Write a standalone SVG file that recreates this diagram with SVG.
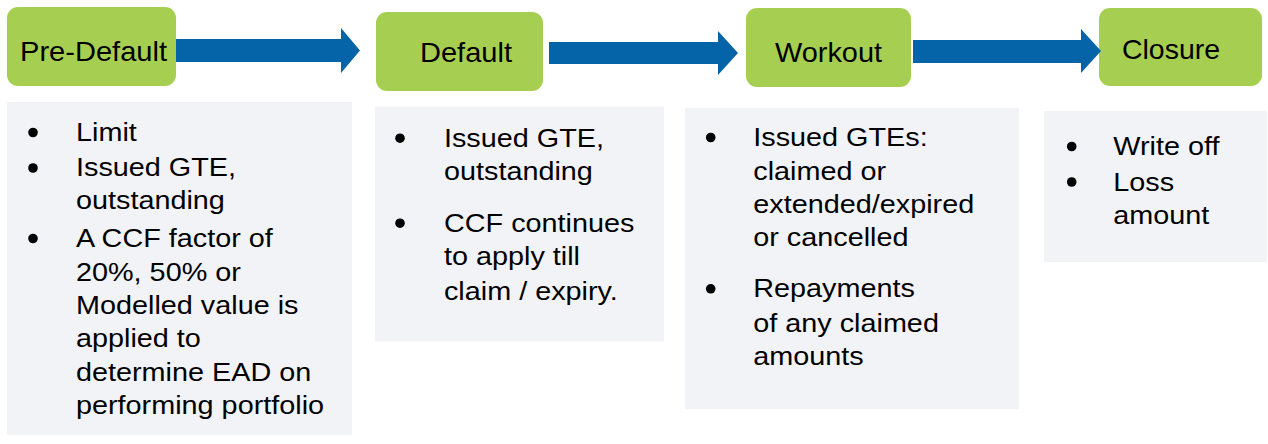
<svg xmlns="http://www.w3.org/2000/svg" width="1268" height="444" viewBox="0 0 1268 444">
  <style>
    .stage { fill: #A6CF51; }
    .panel { fill: #F2F3F7; }
    .head { font-family: "Liberation Sans", Arial, sans-serif; font-size: 28px; fill: #000; }
    .body { font-family: "Liberation Sans", Arial, sans-serif; font-size: 25.5px; fill: #000; }
    .bullet { fill: #000; }
    .arrow { fill: #0563A8; }
  </style>
  <rect width="1268" height="444" fill="#FFFFFF"/>

  <g id="node-pre-default">
    <rect class="stage" x="7" y="7" width="169" height="79" rx="11"/>
    <text class="head" x="20" y="61" textLength="147" lengthAdjust="spacingAndGlyphs">Pre-Default</text>
    <rect class="panel" x="7" y="102" width="345" height="333"/>
    <circle class="bullet" cx="33" cy="132.5" r="4.8"/>
    <circle class="bullet" cx="33" cy="168" r="4.8"/>
    <circle class="bullet" cx="33" cy="238.5" r="4.8"/>
    <g transform="scale(1.13 1)">
      <text class="body" x="67.26" y="140.7">Limit</text>
      <text class="body" x="67.26" y="176.3">Issued GTE,</text>
      <text class="body" x="67.26" y="209.3">outstanding</text>
      <text class="body" x="67.26" y="246.7">A CCF factor of</text>
      <text class="body" x="67.26" y="281">20%, 50% or</text>
      <text class="body" x="67.26" y="314">Modelled value is</text>
      <text class="body" x="67.26" y="347">applied to</text>
      <text class="body" x="67.26" y="381.5">determine EAD on</text>
      <text class="body" x="67.26" y="414.3">performing portfolio</text>
    </g>
  </g>

  <g id="node-default">
    <rect class="stage" x="376" y="12" width="167" height="79" rx="11"/>
    <text class="head" x="420" y="62" textLength="92" lengthAdjust="spacingAndGlyphs">Default</text>
    <rect class="panel" x="375" y="107" width="289" height="234"/>
    <circle class="bullet" cx="400" cy="138.2" r="4.8"/>
    <circle class="bullet" cx="400" cy="223.2" r="4.8"/>
    <g transform="scale(1.13 1)">
      <text class="body" x="392.9" y="146.7">Issued GTE,</text>
      <text class="body" x="392.9" y="180">outstanding</text>
      <text class="body" x="392.9" y="231.7">CCF continues</text>
      <text class="body" x="392.9" y="265">to apply till</text>
      <text class="body" x="392.9" y="300">claim / expiry.</text>
    </g>
  </g>

  <g id="node-workout">
    <rect class="stage" x="746" y="8" width="165" height="79" rx="11"/>
    <text class="head" x="775" y="62" textLength="107" lengthAdjust="spacingAndGlyphs">Workout</text>
    <rect class="panel" x="685" y="108" width="334" height="301"/>
    <circle class="bullet" cx="710.7" cy="137.5" r="4.8"/>
    <circle class="bullet" cx="710.7" cy="288.8" r="4.8"/>
    <g transform="scale(1.13 1)">
      <text class="body" x="666.6" y="146">Issued GTEs:</text>
      <text class="body" x="666.6" y="180">claimed or</text>
      <text class="body" x="666.6" y="212.7">extended/expired</text>
      <text class="body" x="666.6" y="246">or cancelled</text>
      <text class="body" x="666.6" y="297.3">Repayments</text>
      <text class="body" x="666.6" y="331.7">of any claimed</text>
      <text class="body" x="666.6" y="365">amounts</text>
    </g>
  </g>

  <g id="node-closure">
    <rect class="stage" x="1099" y="8" width="163" height="78" rx="11"/>
    <text class="head" x="1122" y="59" textLength="98" lengthAdjust="spacingAndGlyphs">Closure</text>
    <rect class="panel" x="1044" y="111" width="223" height="151"/>
    <circle class="bullet" cx="1071.7" cy="146.5" r="4.8"/>
    <circle class="bullet" cx="1071.7" cy="182" r="4.8"/>
    <g transform="scale(1.13 1)">
      <text class="body" x="985.2" y="155">Write off</text>
      <text class="body" x="985.2" y="190.7">Loss</text>
      <text class="body" x="985.2" y="224">amount</text>
    </g>
  </g>

  <g id="connectors">
    <polygon class="arrow" points="176,39 341,39 341,28 360,50.5 341,73 341,62 176,62"/>
    <polygon class="arrow" points="549,42 718,42 718,31 738,53 718,75 718,64 549,64"/>
    <polygon class="arrow" points="913,40 1081,40 1081,29 1101,51 1081,73 1081,63 913,63"/>
  </g>
</svg>
